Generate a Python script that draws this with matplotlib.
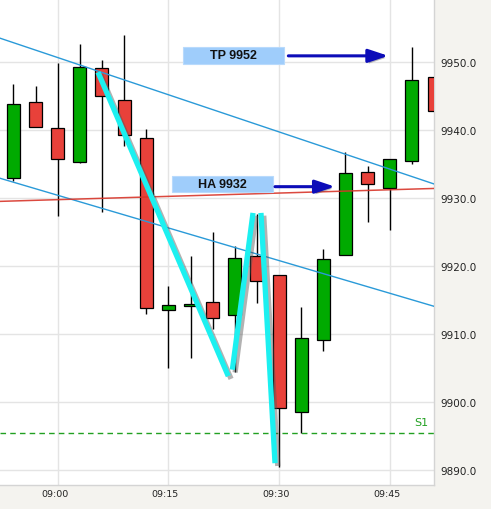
import matplotlib
matplotlib.use("Agg")
import matplotlib.pyplot as plt
import matplotlib.patheffects as pe
from matplotlib.patches import Rectangle
from matplotlib.transforms import ScaledTranslation

# 3-minute candles, time in minutes relative to 09:00
times = [-6, -3, 0, 3, 6, 9, 12, 15, 18, 21, 24, 27, 30, 33, 36, 39, 42, 45, 48, 51]
opens = [9932.9, 9944.1, 9940.25, 9935.25, 9949.1, 9944.4, 9938.8, 9913.5, 9914.1, 9914.7,
         9912.8, 9921.5, 9918.6, 9898.5, 9909.1, 9921.6, 9933.8, 9931.4, 9935.5, 9947.75]
highs = [9946.7, 9946.4, 9949.85, 9952.6, 9950.3, 9953.9, 9940.15, 9917.0, 9921.5, 9925.0,
         9922.9, 9927.6, 9918.6, 9913.9, 9922.5, 9936.7, 9934.7, 9935.8, 9952.2, 9947.75]
lows = [9932.5, 9940.4, 9927.4, 9935.2, 9928.0, 9937.7, 9913.0, 9905.0, 9906.5, 9910.7,
        9904.4, 9914.5, 9890.4, 9895.4, 9907.5, 9921.6, 9926.5, 9925.3, 9935.0, 9942.75]
closes = [9943.8, 9940.4, 9935.8, 9949.2, 9944.96, 9939.2, 9913.8, 9914.2, 9914.4, 9912.3,
          9921.1, 9917.75, 9899.1, 9909.4, 9921.0, 9933.6, 9932.0, 9935.8, 9947.3, 9942.75]

price_ticks = [9890, 9900, 9910, 9920, 9930, 9940, 9950]
time_ticks = [0, 15, 30, 45]
time_labels = ["09:00", "09:15", "09:30", "09:45"]

x_range = [-7.82, 51.0]
y_range = [9887.79, 9959.26]

# channel lines and a reference line (start/end prices over x_range)
channel_upper = [9953.5, 9932.06]
channel_lower = [9932.9, 9914.07]
ref_line = [9929.5, 9931.4]
s1_level = 9895.5

# hand-drawn zigzag strokes: (t0, p0, t1, p1)
zigzag = [
    (5.46, 9948.5, 23.12, 9903.8),
    (23.67, 9904.75, 26.47, 9927.8),
    (27.55, 9927.8, 29.45, 9891.0),
]

# annotation boxes: label, box (t0, t1, p0, p1), arrow (t0, t1, price)
notes = [
    ("TP 9952", (17.0, 30.7, 9949.7, 9952.25), (31.26, 44.81, 9950.9)),
    ("HA 9932", (15.53, 29.22, 9930.84, 9933.28), (29.45, 37.58, 9931.66)),
]

GREEN = "#00aa00"
RED = "#e8413a"
BG = "#f4f3ef"

fig = plt.figure(figsize=(4.91, 5.10), dpi=100, facecolor=BG)
ax = fig.add_axes([0, 24 / 510, 434 / 491, 486 / 510])
ax.set_facecolor("white")
ax.set_xlim(*x_range)
ax.set_ylim(*y_range)

# grid
ax.set_yticks(price_ticks)
ax.set_xticks(time_ticks)
ax.set_xticklabels(time_labels)
ax.yaxis.set_major_formatter(matplotlib.ticker.FormatStrFormatter("%.1f"))
ax.grid(True, color="#e4e4e4", lw=1)
ax.set_axisbelow(True)
ax.yaxis.tick_right()
ax.tick_params(axis="y", length=0, pad=4.5, labelsize=7.5, labelcolor="#222222")
ax.tick_params(axis="x", length=0, pad=3, labelsize=6.8, labelcolor="#222222")
for lbl in ax.get_xticklabels():
    lbl.set_transform(lbl.get_transform() + ScaledTranslation(-3 / 100, 0, fig.dpi_scale_trans))
for side in ["left", "top"]:
    ax.spines[side].set_visible(False)
for side in ["right", "bottom"]:
    ax.spines[side].set_color("#d4d4d4")
    ax.spines[side].set_linewidth(1)

# candles
body_w = 1.76
ax.vlines(times, lows, highs, color="black", lw=1, zorder=2)
for t, o, c in zip(times, opens, closes):
    col = GREEN if c >= o else RED
    ax.bar(t, c - o, bottom=o, width=body_w, color=col, edgecolor="black", lw=0.9, zorder=3)

# channel and reference lines
ax.plot(x_range, channel_upper, color="#2a9ad8", lw=1, zorder=4)
ax.plot(x_range, channel_lower, color="#2a9ad8", lw=1, zorder=4)
ax.plot(x_range, ref_line, color="#d8352a", lw=1.1, zorder=4, alpha=0.9)

# S1 support
ax.axhline(s1_level, color="#22a022", lw=1, ls=(0, (4, 3)), zorder=4)
ax.text(50.3, s1_level + 1.5, "S1", color="#22a022", fontsize=8, ha="right", va="center", zorder=5)

# zigzag strokes
for t0, p0, t1, p1 in zigzag:
    ax.plot([t0, t1], [p0, p1], color="#1cf0f0", lw=3.8, solid_capstyle="butt", zorder=6,
            path_effects=[pe.SimpleLineShadow(offset=(2, -2), shadow_color="#555555", alpha=0.45),
                          pe.Normal()])

# annotation boxes and arrows
for label, (bx0, bx1, by0, by1), (ax0, ax1, ay) in notes:
    ax.add_patch(Rectangle((bx0, by0), bx1 - bx0, by1 - by0, facecolor="#9fcdfb",
                           edgecolor="#b8dafc", lw=0.8, zorder=7))
    ax.text((bx0 + bx1) / 2, (by0 + by1) / 2, label, ha="center", va="center",
            fontsize=9, fontweight="bold", family="Liberation Sans", color="#111111", zorder=8)
    ann = ax.annotate("", xy=(ax1, ay), xytext=(ax0, ay), zorder=8,
                      arrowprops=dict(arrowstyle="-|>,head_length=0.6,head_width=0.2",
                                      mutation_scale=20, color="#0c0cb8", lw=2.2,
                                      shrinkA=0, shrinkB=0))
    ann.arrow_patch.set_path_effects([
        pe.SimplePatchShadow(offset=(1.5, -1.5), shadow_rgbFace="#555555", alpha=0.4),
        pe.Normal()])

fig.savefig("out.png", dpi=100, facecolor=BG)
